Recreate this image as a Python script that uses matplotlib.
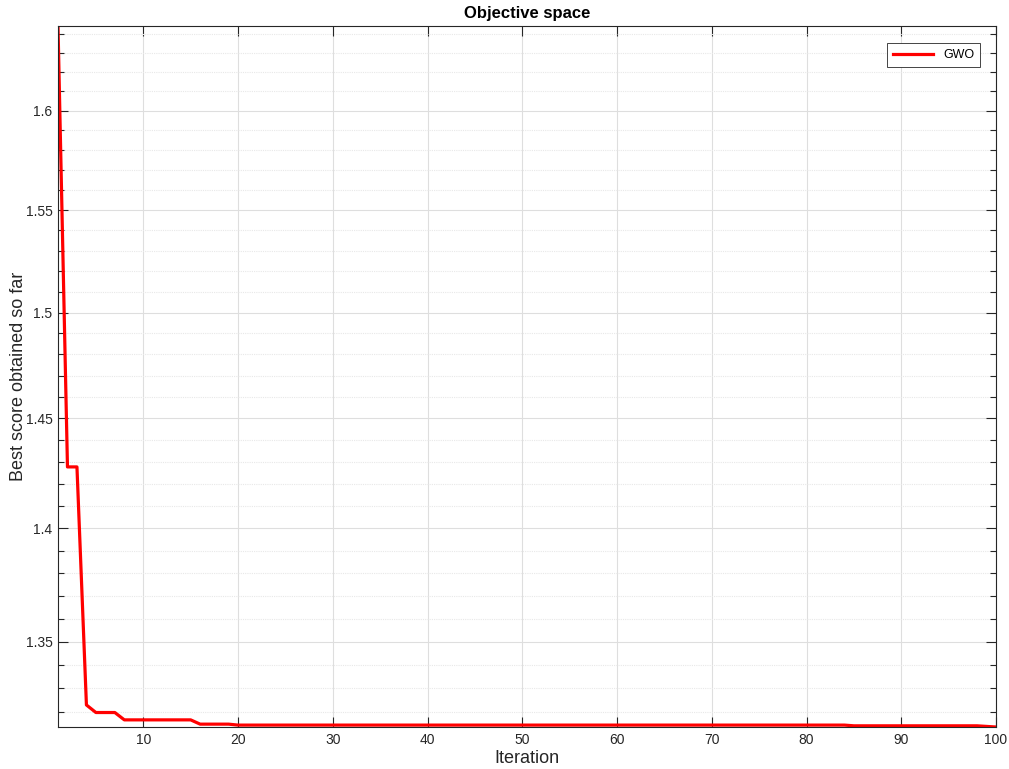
import numpy as np
import matplotlib
matplotlib.use("Agg")
import matplotlib.pyplot as plt
from matplotlib.ticker import FixedLocator, FixedFormatter, NullFormatter

plt.rcParams['font.family'] = ['Liberation Sans', 'DejaVu Sans']

# convergence curve (best score per iteration)
iterations = np.arange(1, 101)
best_score = ([1.6440] + [1.4277] * 2 + [1.3230] + [1.3198] * 3 + [1.3167] * 8
              + [1.3149] * 4 + [1.3145] * 65 + [1.3142] * 14 + [1.31395, 1.3137])
best_score = np.array(best_score)

y_ticks = [1.35, 1.4, 1.45, 1.5, 1.55, 1.6]
y_tick_labels = ['1.35', '1.4', '1.45', '1.5', '1.55', '1.6']
y_minor = [1.32, 1.33, 1.34, 1.36, 1.37, 1.38, 1.39, 1.41, 1.42, 1.43, 1.44,
           1.46, 1.47, 1.48, 1.49, 1.51, 1.52, 1.53, 1.54, 1.56, 1.57, 1.58,
           1.59, 1.61, 1.62, 1.63, 1.64]
x_ticks = [10, 20, 30, 40, 50, 60, 70, 80, 90, 100]

fg = '#262626'

fig = plt.figure(figsize=(10.09, 7.69), dpi=100)
ax = fig.add_axes([58 / 1009, 1 - 727 / 769, (996 - 58) / 1009, (727 - 26) / 769])

ax.semilogy(iterations, best_score, color='#ff0000', lw=2.3, label='GWO')
ax.set_xlim(1, 100)
ax.set_ylim(best_score.min(), best_score.max())

ax.yaxis.set_major_locator(FixedLocator(y_ticks))
ax.yaxis.set_major_formatter(FixedFormatter(y_tick_labels))
ax.yaxis.set_minor_locator(FixedLocator(y_minor))
ax.yaxis.set_minor_formatter(NullFormatter())
ax.xaxis.set_major_locator(FixedLocator(x_ticks))

ax.grid(True, which='major', color='#dedede', lw=0.8)
ax.grid(True, which='minor', axis='y', color='#e8e8e8', lw=0.8, linestyle=(0, (1, 1)))
ax.set_axisbelow(True)

ax.tick_params(which='both', direction='in', top=True, right=True, colors=fg,
               labelsize=10, width=0.8)
ax.tick_params(which='major', length=7, pad=4)
ax.tick_params(which='minor', length=4)
for s in ax.spines.values():
    s.set_color(fg)
    s.set_linewidth(0.8)

ax.set_title('Objective space', fontsize=12, fontweight='bold', color='black', pad=6)
ax.set_xlabel('Iteration', fontsize=13, color=fg, va='center')
ax.set_ylabel('Best score obtained so far', fontsize=13, color=fg, va='center')
ax.xaxis.set_label_coords(0.5, -0.045)
ax.yaxis.set_label_coords(-0.0425, 0.5)

leg = ax.legend(loc='upper right', fontsize=9, fancybox=False, framealpha=1,
                edgecolor='#262626', handlelength=3.2, borderpad=0.5,
                bbox_to_anchor=(0.99, 0.985))
leg.get_frame().set_linewidth(0.6)

fig.savefig('out.png', dpi=100)
